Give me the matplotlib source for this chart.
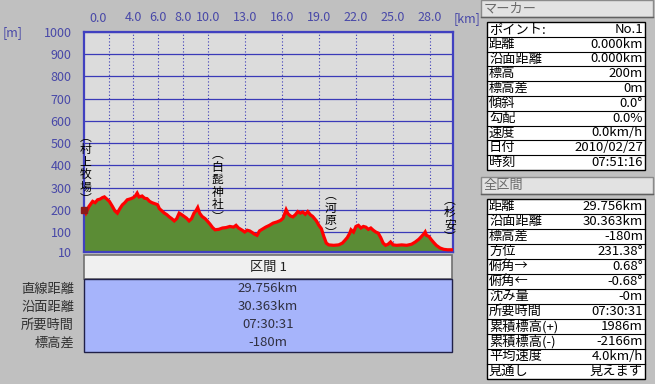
import numpy as np
import matplotlib
matplotlib.use('Agg')
import matplotlib.pyplot as plt
from matplotlib.patches import Rectangle

plt.rcParams['font.family'] = ['Noto Sans CJK JP', 'DejaVu Sans']

# ---------------- data ----------------
dist_km = [0.0, 0.15, 0.4, 0.7, 0.9, 1.1, 1.3, 1.5, 1.65, 1.85,
           2.05, 2.3, 2.5, 2.7, 2.9, 3.1, 3.3, 3.5, 3.8, 4.0,
           4.15, 4.3, 4.45, 4.7, 4.9, 5.1, 5.3, 5.5, 5.7, 5.95,
           6.1, 6.3, 6.5, 6.7, 6.9, 7.1, 7.3, 7.5, 7.7, 7.9,
           8.1, 8.3, 8.5, 8.7, 8.9, 9.05, 9.2, 9.35, 9.55, 9.8,
           10.0, 10.2, 10.4, 10.6, 10.9, 11.2, 11.5, 11.8, 12.1, 12.3,
           12.5, 12.8, 13.0, 13.2, 13.4, 13.6, 13.8, 14.0, 14.2, 14.4,
           14.7, 15.0, 15.3, 15.6, 15.9, 16.1, 16.35, 16.5, 16.7, 16.9,
           17.1, 17.3, 17.5, 17.7, 17.9, 18.1, 18.3, 18.5, 18.8, 19.0,
           19.2, 19.4, 19.6, 19.8, 20.2, 20.6, 20.9, 21.1, 21.3, 21.5,
           21.6, 21.8, 22.0, 22.2, 22.4, 22.6, 22.8, 23.0, 23.2, 23.4,
           23.6, 23.8, 24.0, 24.2, 24.4, 24.6, 24.8, 25.0, 25.3, 25.7,
           26.1, 26.5, 26.8, 27.1, 27.3, 27.5, 27.6, 27.7, 27.9, 28.1,
           28.3, 28.5, 28.8, 29.1, 29.4, 29.756]
elev_m = [200, 185, 215, 238, 232, 245, 248, 255, 258, 248,
          238, 215, 195, 185, 205, 222, 232, 245, 250, 255,
          262, 275, 258, 262, 252, 250, 238, 232, 228, 223,
          205, 195, 185, 178, 168, 160, 150, 160, 185, 178,
          170, 162, 150, 160, 185, 195, 210, 185, 170, 160,
          148, 135, 120, 110, 112, 118, 120, 125, 122, 130,
          118, 108, 100, 108, 105, 98, 90, 85, 105, 112,
          122, 130, 140, 145, 152, 162, 200, 182, 172, 168,
          178, 192, 185, 190, 180, 192, 178, 170, 150, 130,
          115, 80, 50, 42, 40, 42, 50, 62, 75, 95,
          110, 100, 125, 130, 118, 125, 122, 112, 118, 108,
          100, 95, 75, 50, 40, 45, 55, 42, 40, 42,
          40, 45, 55, 68, 80, 92, 100, 85, 80, 65,
          52, 40, 28, 22, 20, 20]

x_ticks = [2, 4, 6, 8, 10, 13, 16, 19, 22, 25, 28]
x_tick_labels = ['', '4.0', '6.0', '8.0', '10.0', '13.0', '16.0', '19.0', '22.0', '25.0', '28.0']
y_ticks = [10, 100, 200, 300, 400, 500, 600, 700, 800, 900, 1000]

landmark_names = ['村上牧場', '白髭神社', '河原', '杉安']
landmark_km = [0.1, 10.8, 19.95, 29.6]

marker_labels = ['ポイント:', '距離', '沿面距離', '標高', '標高差', '傾斜', '勾配', '速度', '日付', '時刻']
marker_values = ['No.1', '0.000km', '0.000km', '200m', '0m', '0.0°', '0.0%', '0.0km/h', '2010/02/27', '07:51:16']
total_labels = ['距離', '沿面距離', '標高差', '方位', '俯角→', '俯角←', '沈み量', '所要時間',
                '累積標高(+)', '累積標高(-)', '平均速度', '見通し']
total_values = ['29.756km', '30.363km', '-180m', '231.38°', '0.68°', '-0.68°', '-0m', '07:30:31',
                '1986m', '-2166m', '4.0km/h', '見えます']
section_title = '区間 1'
section_labels = ['直線距離', '沿面距離', '所要時間', '標高差']
section_values = ['29.756km', '30.363km', '07:30:31', '-180m']

# ---------------- figure ----------------
W, H = 655, 384
BG = '#c0c0c0'
BLUE = '#3a3ab8'
TICKC = '#4848a8'
fig = plt.figure(figsize=(W / 100, H / 100), dpi=100, facecolor=BG)

# overlay in pixel coordinates for panels / tables
ov = fig.add_axes([0, 0, 1, 1])
ov.set_xlim(0, W)
ov.set_ylim(H, 0)
ov.axis('off')
ov.patch.set_visible(False)

# main profile axes
L, R, T, B = 84, 453, 32, 252
ax = fig.add_axes([L / W, 1 - B / H, (R - L) / W, (B - T) / H])
ax.set_facecolor('#dcdcdc')
ax.set_xlim(0, 29.85)
ax.set_ylim(10, 1000)

for yv in y_ticks:
    ax.axhline(yv, color=BLUE, lw=0.9, zorder=1)
ax.axvline(0.02, color=BLUE, lw=1.2, ls=(0, (1, 1)), zorder=1)
for xv in x_ticks:
    ax.axvline(xv, color=BLUE, lw=0.8, ls=(0, (1, 2)), zorder=1)

ax.fill_between(dist_km, elev_m, 10, color='#5b8c35', lw=0, zorder=2)
ax.plot(dist_km, elev_m, color='#ff0000', lw=2.3, zorder=3, solid_joinstyle='miter')

# start marker (hiker)
ax.plot([dist_km[0]], [elev_m[0]], marker='s', ms=4.5, color='#8b1a1a', zorder=4, clip_on=False)

for s in ax.spines.values():
    s.set_color('#4040c0')
    s.set_linewidth(1.6)

ax.xaxis.tick_top()
ax.set_xticks(x_ticks)
ax.set_xticklabels(x_tick_labels)
ax.set_yticks(y_ticks)
ax.set_yticklabels([str(v) for v in y_ticks])
ax.tick_params(axis='both', length=0, labelsize=9, colors=TICKC)
ax.tick_params(axis='x', pad=6)
ax.tick_params(axis='y', pad=9)
ax.annotate('0.0', xy=(0, 1), xycoords=('data', 'axes fraction'), xytext=(5, 7),
            textcoords='offset pixels', ha='left', va='bottom', fontsize=9, color=TICKC)
ax.annotate('[km]', xy=(1, 1), xycoords='axes fraction', xytext=(1, 7),
            textcoords='offset pixels', ha='left', va='bottom', fontsize=9, color=TICKC)
ov.text(3, 33, '[m]', fontsize=9, color=TICKC, ha='left', va='center')

# vertical landmark labels
for name, xk in zip(landmark_names, landmark_km):
    yk = np.interp(xk, dist_km, elev_m)
    vert = '\n'.join(['︵'] + list(name) + ['︶'])
    ax.annotate(vert, xy=(xk, yk), xytext=(0, 4), textcoords='offset points',
                ha='center', va='bottom', fontsize=8.5, linespacing=0.95,
                color='black', zorder=5, annotation_clip=False)

# ---------------- section table under plot ----------------
ov.add_patch(Rectangle((84, 255), 368, 24, facecolor='#f0f0f0', edgecolor='#707070', lw=1.2))
ov.text(268, 267, section_title, ha='center', va='center', fontsize=9.5, color='#202020')
ov.add_patch(Rectangle((84, 279), 368, 73, facecolor='#a6b4fb', edgecolor='#202048', lw=1.0))
for i, (lab, val) in enumerate(zip(section_labels, section_values)):
    yy = 289 + i * 18
    ov.text(74, yy, lab, ha='right', va='center', fontsize=9.5, color='#303030')
    ov.text(268, yy, val, ha='center', va='center', fontsize=9.5, color='#303040')

# ---------------- right panel ----------------
def header(y0, h, text):
    ov.add_patch(Rectangle((481, y0), 172, h, facecolor='#e2e2e2', edgecolor='#8a8a8a', lw=1.0))
    ov.plot([481, 653], [y0 + h, y0 + h], color='#606060', lw=1.0)
    ov.text(484, y0 + h / 2 + 0.5, text, ha='left', va='center', fontsize=9.5, color='#6a6a6a')


def table(y0, rh, labels, values):
    n = len(labels)
    ov.add_patch(Rectangle((487, y0), 158, rh * n, facecolor='white', edgecolor='black', lw=1.0))
    for i in range(1, n):
        ov.plot([487, 645], [y0 + i * rh, y0 + i * rh], color='black', lw=0.8)
    for i, (lab, val) in enumerate(zip(labels, values)):
        yc = y0 + (i + 0.5) * rh
        ov.text(489, yc, lab, ha='left', va='center', fontsize=9.5, color='black')
        ov.text(643, yc, val, ha='right', va='center', fontsize=9.5, color='black')


header(0, 17, 'マーカー')
table(22, 14.8, marker_labels, marker_values)
header(177, 17, '全区間')
table(199, 15.0, total_labels, total_values)

fig.savefig('out.png', dpi=100, facecolor=BG)
